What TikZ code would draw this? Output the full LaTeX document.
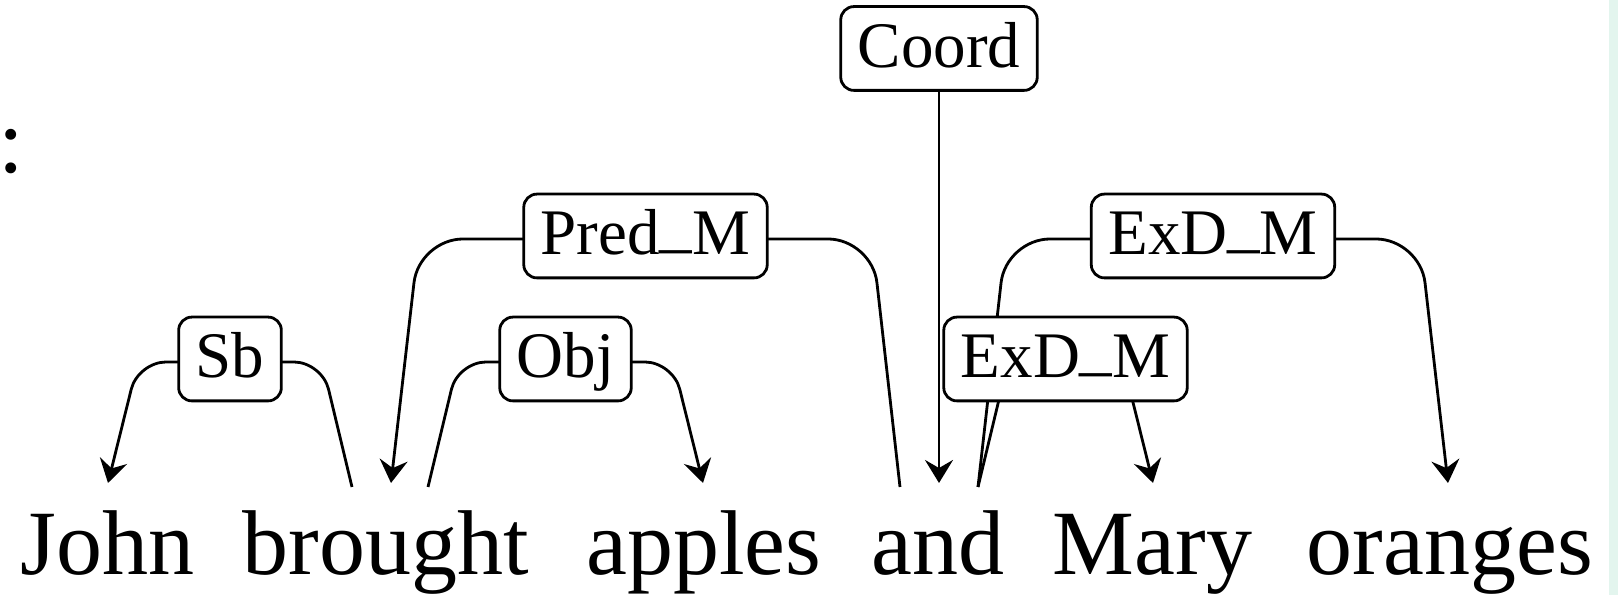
\documentclass[tikz,border=0pt]{standalone}
\usepackage{fontspec}
\setmainfont{Liberation Serif}
\usetikzlibrary{calc,arrows.meta}

\definecolor{streifen}{HTML}{E3F5EE}
\newcommand{\us}{\raisebox{0.14em}{\_}}

\tikzset{
  wort/.style={anchor=base, inner sep=0pt, font=\fontsize{23}{28}\selectfont},
  marke/.style={draw, fill=white, line width=0.7pt, rounded corners=3.3pt,
    inner xsep=4.25pt, inner ysep=2.5pt, text height=12.7pt, text depth=3.25pt,
    font=\fontsize{16.25}{20}\selectfont},
  aufkante/.style={marke, yshift=0.75pt},
  kante/.style={line width=0.7pt, -{Stealth[length=5.75pt,width=7pt,inset=2pt]}},
}

\begin{document}
\begin{tikzpicture}[x=0.25pt, y=-0.25pt]
\useasboundingbox (0,0) rectangle (1618,595);

% Rand
\fill[streifen] (1609,0) rectangle (1618,595);
\node[wort, anchor=base west] (doppelpunkt) at (-2,173) {:};

% Woerter
\foreach \w/\x in {John/107.5, brought/385.5, apples/704, and/938, Mary/1152.5, oranges/1450} {
  \node[wort] (\w) at (\x,575) {\w};
}

% Ankerpunkte
\coordinate (John-in)    at ($(John.base)+(0.5,-92)$);
\coordinate (brought-l)  at ($(brought.base)+(-33.5,-88)$);
\coordinate (brought-in) at ($(brought.base)+(5.5,-92)$);
\coordinate (brought-r)  at ($(brought.base)+(42.5,-88)$);
\coordinate (apples-in)  at ($(apples.base)+(-1,-92)$);
\coordinate (and-l)      at ($(and.base)+(-38,-88)$);
\coordinate (and-in)     at ($(and.base)+(1,-92)$);
\coordinate (and-r)      at ($(and.base)+(40,-88)$);
\coordinate (Mary-in)    at ($(Mary.base)+(0.5,-92)$);
\coordinate (oranges-in) at ($(oranges.base)+(-2,-92)$);

% Kanten, obere Ebene
\draw[kante, rounded corners=11pt] (and-l) -- ++(-28,-248)
  -- node[aufkante] (pred) {Pred\us M} ($(brought-in)+(28,-244)$) -- (brought-in);
\draw[kante, rounded corners=11pt] (and-r) -- ++(28,-248)
  -- node[aufkante] (exd-oranges) {ExD\us M} ($(oranges-in)+(-28,-244)$) -- (oranges-in);

% Kanten, untere Ebene
\draw[kante, rounded corners=7pt] (brought-l) -- ++(-30,-125)
  -- node[aufkante] (sb) {Sb} ($(John-in)+(30,-121)$) -- (John-in);
\draw[kante, rounded corners=7pt] (brought-r) -- ++(30,-125)
  -- node[aufkante] (obj) {Obj} ($(apples-in)+(-30,-121)$) -- (apples-in);
\draw[kante, rounded corners=7pt] (and-r) -- ++(30,-125)
  -- node[aufkante] (exd-mary) {ExD\us M} ($(Mary-in)+(-30,-121)$) -- (Mary-in);

% Wurzel
\node[marke] (coord) at (939,48.5) {Coord};
\draw[kante] (coord) -- (and-in);

\end{tikzpicture}
\end{document}
